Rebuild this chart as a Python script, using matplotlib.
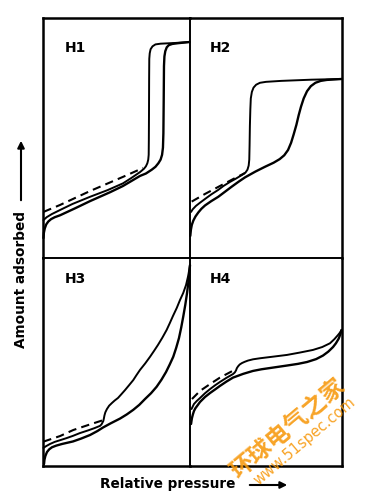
import numpy as np
import matplotlib
matplotlib.use('Agg')
import matplotlib.pyplot as plt
from matplotlib.patches import FancyArrowPatch

plt.rcParams['font.family'] = ['DejaVu Sans', 'Noto Sans CJK SC']

# panel labels
labels = ['H1', 'H2', 'H3', 'H4']

# H1 -- relative pressure (0-1) vs amount adsorbed (0-1, panel units)
h1_ads_x = [0.003, 0.006, 0.012, 0.022, 0.036, 0.055, 0.08, 0.116, 0.218, 0.32, 0.456, 0.544, 0.66, 0.70, 0.74, 0.765,
            0.785, 0.80, 0.81, 0.816, 0.819, 0.821, 0.823, 0.826, 0.832, 0.842, 0.856, 0.88, 0.918, 0.997]
h1_ads_y = [0.083, 0.105, 0.123, 0.14, 0.152, 0.162, 0.17, 0.178, 0.207, 0.237, 0.274, 0.3, 0.342, 0.352, 0.368, 0.38,
            0.395, 0.41, 0.43, 0.46, 0.52, 0.65, 0.80, 0.84, 0.862, 0.878, 0.887, 0.892, 0.895, 0.9]
h1_des_x = [0.997, 0.9, 0.8, 0.765, 0.745, 0.732, 0.726, 0.723, 0.722, 0.721, 0.72, 0.719, 0.716, 0.71, 0.70, 0.687,
            0.66, 0.6, 0.544, 0.44, 0.32, 0.2, 0.116, 0.06, 0.025, 0.003]
h1_des_y = [0.9, 0.896, 0.893, 0.89, 0.882, 0.87, 0.853, 0.83, 0.75, 0.6, 0.49, 0.43, 0.41, 0.395, 0.382, 0.372,
            0.358, 0.333, 0.311, 0.283, 0.255, 0.225, 0.2, 0.183, 0.17, 0.158]
h1_dash_x = [0.003, 0.116, 0.32, 0.544, 0.68]
h1_dash_y = [0.192, 0.221, 0.279, 0.338, 0.375]

# H2
h2_ads_x = [0.002, 0.006, 0.012, 0.022, 0.036, 0.055, 0.075, 0.099, 0.14, 0.186, 0.23, 0.274, 0.32, 0.362, 0.43, 0.493,
            0.55, 0.59, 0.62, 0.645, 0.665, 0.682, 0.70, 0.715, 0.73, 0.748, 0.77, 0.795, 0.825, 0.86, 0.9, 1.0]
h2_ads_y = [0.092, 0.118, 0.138, 0.156, 0.173, 0.19, 0.205, 0.219, 0.237, 0.255, 0.276, 0.297, 0.318, 0.336, 0.36, 0.38,
            0.397, 0.412, 0.428, 0.45, 0.48, 0.515, 0.555, 0.595, 0.63, 0.665, 0.695, 0.716, 0.73, 0.738, 0.742, 0.746]
h2_des_x = [1.0, 0.8, 0.6, 0.5, 0.46, 0.435, 0.418, 0.407, 0.40, 0.397, 0.394, 0.392, 0.39, 0.386, 0.378, 0.365,
            0.342, 0.3, 0.263, 0.22, 0.184, 0.14, 0.099, 0.065, 0.039, 0.018, 0.007]
h2_des_y = [0.746, 0.743, 0.738, 0.734, 0.73, 0.722, 0.71, 0.692, 0.665, 0.62, 0.55, 0.47, 0.41, 0.385, 0.368, 0.356,
            0.346, 0.33, 0.317, 0.3, 0.283, 0.265, 0.246, 0.23, 0.217, 0.203, 0.192]
h2_dash_x = [0.011, 0.099, 0.197, 0.296, 0.362]
h2_dash_y = [0.235, 0.267, 0.3, 0.333, 0.354]

# H3
h3_ads_x = [0.007, 0.01, 0.016, 0.027, 0.042, 0.061, 0.09, 0.13, 0.204, 0.26, 0.32, 0.37, 0.408, 0.46, 0.524, 0.57,
            0.614, 0.655, 0.694, 0.735, 0.773, 0.806, 0.837, 0.862, 0.886, 0.906, 0.925, 0.94, 0.954, 0.968, 0.98,
            0.99, 0.997, 1.0]
h3_ads_y = [0.01, 0.03, 0.048, 0.067, 0.08, 0.09, 0.098, 0.106, 0.118, 0.132, 0.149, 0.168, 0.185, 0.205, 0.228, 0.248,
            0.27, 0.294, 0.322, 0.35, 0.381, 0.415, 0.452, 0.488, 0.525, 0.568, 0.615, 0.665, 0.718, 0.775, 0.832,
            0.89, 0.942, 0.966]
h3_des_x = [1.0, 0.988, 0.973, 0.954, 0.932, 0.91, 0.884, 0.862, 0.841, 0.812, 0.782, 0.755, 0.728, 0.695, 0.66, 0.636,
            0.614, 0.585, 0.558, 0.533, 0.51, 0.488, 0.469, 0.45, 0.435, 0.424, 0.418, 0.414, 0.41, 0.398, 0.388,
            0.35, 0.306, 0.25, 0.204, 0.16, 0.116, 0.08, 0.048, 0.02, 0.003]
h3_des_y = [0.966, 0.915, 0.87, 0.832, 0.798, 0.76, 0.721, 0.686, 0.654, 0.617, 0.582, 0.553, 0.525, 0.493, 0.462, 0.437,
            0.413, 0.388, 0.365, 0.345, 0.327, 0.315, 0.303, 0.29, 0.274, 0.258, 0.243, 0.228, 0.216, 0.2, 0.193,
            0.182, 0.171, 0.158, 0.145, 0.134, 0.124, 0.116, 0.106, 0.095, 0.087]
h3_dash_x = [0.002, 0.116, 0.206, 0.32, 0.412]
h3_dash_y = [0.117, 0.144, 0.173, 0.2, 0.221]

# H4
h4_ads_x = [0.007, 0.01, 0.013, 0.019, 0.026, 0.035, 0.046, 0.066, 0.099, 0.132, 0.165, 0.197, 0.24, 0.283, 0.35, 0.414,
            0.47, 0.526, 0.638, 0.71, 0.77, 0.83, 0.875, 0.91, 0.941, 0.96, 0.978, 0.99, 0.997]
h4_ads_y = [0.202, 0.218, 0.231, 0.248, 0.264, 0.277, 0.288, 0.308, 0.332, 0.351, 0.368, 0.385, 0.406, 0.425, 0.443, 0.457,
            0.465, 0.471, 0.483, 0.491, 0.5, 0.514, 0.531, 0.55, 0.572, 0.59, 0.612, 0.635, 0.654]
h4_des_x = [0.997, 0.985, 0.974, 0.95, 0.921, 0.87, 0.809, 0.72, 0.638, 0.55, 0.461, 0.415, 0.382, 0.36, 0.342, 0.327,
            0.316, 0.308, 0.303, 0.295, 0.283, 0.24, 0.197, 0.165, 0.132, 0.099, 0.066, 0.045, 0.026, 0.01]
h4_des_y = [0.654, 0.64, 0.63, 0.61, 0.59, 0.572, 0.558, 0.545, 0.534, 0.526, 0.518, 0.513, 0.507, 0.501, 0.495, 0.488,
            0.479, 0.47, 0.46, 0.45, 0.442, 0.424, 0.404, 0.388, 0.37, 0.35, 0.327, 0.313, 0.298, 0.274]
h4_dash_x = [0.013, 0.066, 0.132, 0.197, 0.303]
h4_dash_y = [0.322, 0.361, 0.394, 0.425, 0.466]

curves = [
    (h1_ads_x, h1_ads_y, h1_des_x, h1_des_y, h1_dash_x, h1_dash_y),
    (h2_ads_x, h2_ads_y, h2_des_x, h2_des_y, h2_dash_x, h2_dash_y),
    (h3_ads_x, h3_ads_y, h3_des_x, h3_des_y, h3_dash_x, h3_dash_y),
    (h4_ads_x, h4_ads_y, h4_des_x, h4_des_y, h4_dash_x, h4_dash_y),
]

W, H = 371, 504
fig = plt.figure(figsize=(W / 100, H / 100), dpi=100)

# panel boxes in pixels: left, top, right, bottom
boxes = [(43, 18, 190, 258), (190, 18, 342, 258),
         (43, 258, 190, 466), (190, 258, 342, 466)]

for i, (l, t, r, b) in enumerate(boxes):
    ax = fig.add_axes([l / W, 1 - b / H, (r - l) / W, (b - t) / H])
    ax.set_xlim(0, 1)
    ax.set_ylim(0, 1)
    ax.set_xticks([])
    ax.set_yticks([])
    for s in ax.spines.values():
        s.set_linewidth(1.2)
    # outer edges of the whole frame are heavier
    if i in (0, 2):
        ax.spines['left'].set_linewidth(1.8)
    if i in (1, 3):
        ax.spines['right'].set_linewidth(1.8)
    if i in (0, 1):
        ax.spines['top'].set_linewidth(1.8)
    if i in (2, 3):
        ax.spines['bottom'].set_linewidth(1.8)
    ax.patch.set_alpha(0)

    ax_x, ax_y, de_x, de_y, da_x, da_y = curves[i]
    ax.plot(ax_x, ax_y, color='k', lw=1.7, clip_on=False, solid_capstyle='round', solid_joinstyle='round')
    ax.plot(de_x, de_y, color='k', lw=1.4, clip_on=False, solid_capstyle='round', solid_joinstyle='round')
    ax.plot(da_x, da_y, color='k', lw=1.5, ls=(0, (4, 2.5)), clip_on=False)

    ly = 0.875 if i < 2 else 0.9
    ax.text(0.15 if i % 2 == 0 else 0.13, ly, labels[i], transform=ax.transAxes,
            fontsize=10, fontweight='bold', va='center', ha='left')

# axis titles with arrows
fig.text(100 / W, 1 - 484 / H, 'Relative pressure', fontsize=9.8, fontweight='bold',
         ha='left', va='center')
fig.add_artist(FancyArrowPatch((247 / W, 1 - 485 / H), (290 / W, 1 - 485 / H),
               transform=fig.transFigure, arrowstyle='-|>', mutation_scale=10, lw=1.5, color='k'))
fig.text(21 / W, 1 - 279 / H, 'Amount adsorbed', fontsize=9.8, fontweight='bold',
         rotation=90, ha='center', va='center')
fig.add_artist(FancyArrowPatch((21 / W, 1 - 203 / H), (21 / W, 1 - 138 / H),
               transform=fig.transFigure, arrowstyle='-|>', mutation_scale=10, lw=1.5, color='k'))

# watermark
fig.text(288 / W, 1 - 428 / H, '环球电气之家', fontsize=17, color='#F79A10',
         family=['Noto Sans CJK SC', 'DejaVu Sans'], fontweight='bold',
         rotation=40, ha='center', va='center', alpha=0.9)
fig.text(305 / W, 1 - 441 / H, 'www.51spec.com', fontsize=10.5, color='#F79A10',
         rotation=40, ha='center', va='center', alpha=0.9)

plt.savefig('out.png', dpi=100)
plt.close()
